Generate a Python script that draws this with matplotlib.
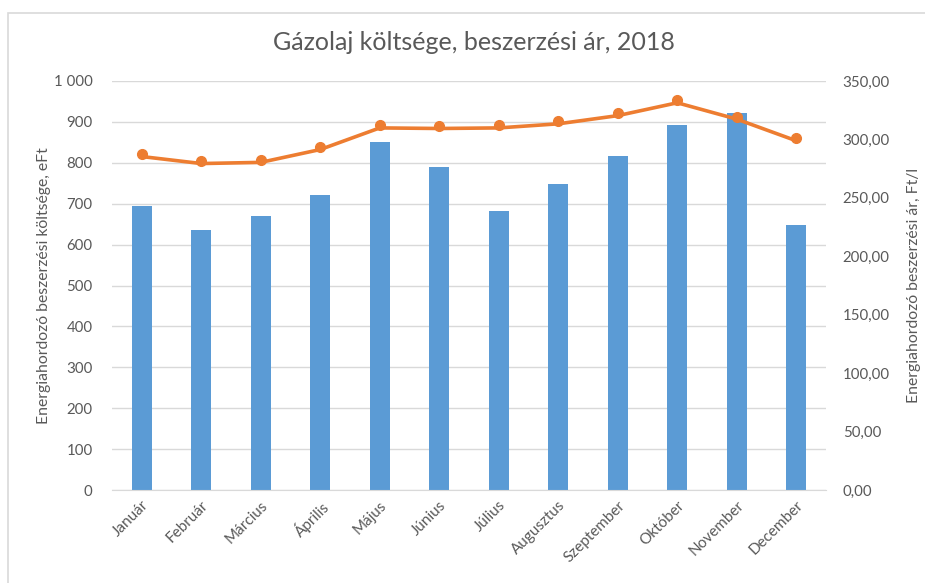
import matplotlib
matplotlib.use("Agg")
import matplotlib.pyplot as plt
import matplotlib.transforms as mtransforms
from matplotlib.patches import Rectangle
from matplotlib.ticker import FuncFormatter

months = ["Január", "Február", "Március", "Április", "Május", "Június",
          "Július", "Augusztus", "Szeptember", "Október", "November", "December"]
cost_eft = [695, 635, 669, 721, 851, 790, 682, 747, 816, 893, 922, 648]
price_ft_l = [287.5, 281.5, 282.5, 293.5, 312.0, 311.5, 312.0, 315.5, 322.5, 333.5, 319.5, 301.0]

left_ticks = [0, 100, 200, 300, 400, 500, 600, 700, 800, 900, 1000]
right_ticks = [0, 50, 100, 150, 200, 250, 300, 350]

plt.rcParams['font.family'] = ['Lato', 'DejaVu Sans']
TXT = '#595959'
BLUE = '#5B9BD5'
ORANGE = '#ED7D31'
GRID = '#D9D9D9'

fig = plt.figure(figsize=(9.25, 5.83), dpi=100)
ax = fig.add_axes([112/925, 1 - 490/583, (826-112)/925, (490-81)/583])
ax2 = ax.twinx()

x = list(range(len(months)))
ax.bar(x, cost_eft, width=0.34, color=BLUE, zorder=2)
ax.set_xlim(-0.5, len(months) - 0.5)
ax.set_ylim(0, 1000)
ax.set_yticks(left_ticks)
ax.yaxis.set_major_formatter(FuncFormatter(lambda v, p: f"{int(v):,}".replace(",", " ")))
ax.grid(axis='y', color=GRID, linewidth=1.0, zorder=0)
ax.set_axisbelow(True)
for s in ['top', 'right', 'left']:
    ax.spines[s].set_visible(False)
ax.spines['bottom'].set_color(GRID)
ax.tick_params(axis='y', length=0, pad=14, labelsize=10.8, labelcolor=TXT)
ax.tick_params(axis='x', length=0, pad=6, labelsize=11, labelcolor=TXT)
ax.set_xticks(x)
ax.set_xticklabels(months, rotation=45, ha='right', rotation_mode='anchor')
ax.set_ylabel("Energiahordozó beszerzési költsége, eFt", color=TXT, fontsize=11.3, labelpad=2)

line_offset = mtransforms.offset_copy(ax2.transData, fig=fig, x=0, y=-2.5, units='dots')
ax2.plot(x, price_ft_l, color=ORANGE, linewidth=2.6, transform=line_offset, zorder=3,
         solid_capstyle='round')
ax2.plot(x, price_ft_l, linestyle='none', marker='o', markersize=7, color=ORANGE, zorder=4)
ax2.set_ylim(0, 350)
ax2.set_yticks(right_ticks)
ax2.yaxis.set_major_formatter(FuncFormatter(lambda v, p: f"{v:.2f}".replace(".", ",")))
for s in ['top', 'right', 'left', 'bottom']:
    ax2.spines[s].set_visible(False)
ax2.tick_params(axis='y', length=0, pad=12, labelsize=10.8, labelcolor=TXT)
ax2.set_ylabel("Energiahordozó beszerzési ár, Ft/l", color=TXT, fontsize=11.3, labelpad=12)

fig.suptitle("Gázolaj költsége, beszerzési ár, 2018", x=474/925, y=1 - 43/583,
             va='center', fontsize=18, color=TXT)

fig.patches.append(Rectangle((8/925, -0.05), 1.1, 1 - 13/583 + 0.05, transform=fig.transFigure,
                             fill=False, edgecolor=GRID, linewidth=1.2, zorder=-1))

fig.savefig("out.png", dpi=100)
